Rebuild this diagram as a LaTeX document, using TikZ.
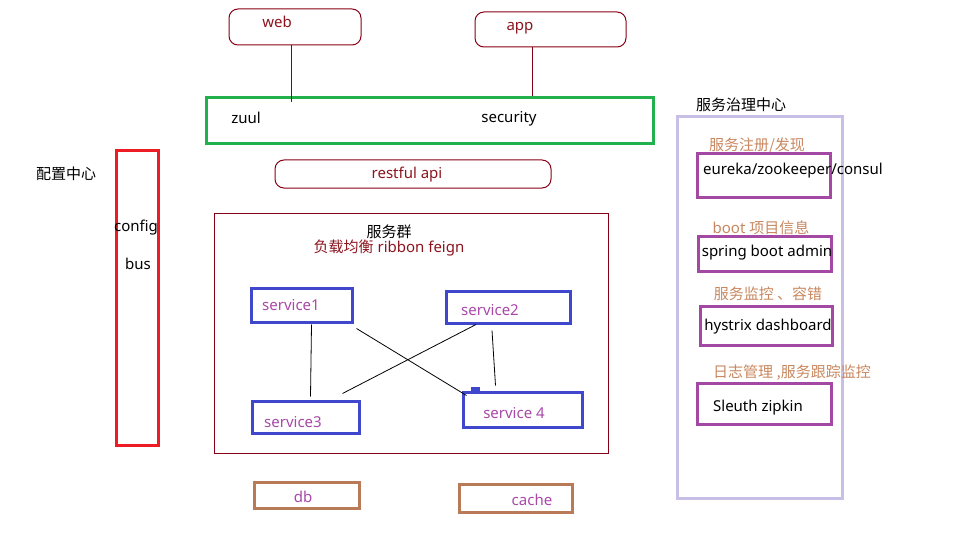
\documentclass[tikz,border=0pt]{standalone}
\usepackage{fontspec}
\setmainfont{Noto Sans}
\newfontfamily\cjk{Noto Sans CJK SC}
\definecolor{dred}{RGB}{136,0,21}
\definecolor{tred}{RGB}{140,20,30}
\definecolor{gbox}{RGB}{34,177,76}
\definecolor{rbox}{RGB}{237,28,36}
\definecolor{bbox}{RGB}{63,72,204}
\definecolor{ptext}{RGB}{168,72,168}
\definecolor{lav}{RGB}{200,191,231}
\definecolor{pbox}{RGB}{163,73,164}
\definecolor{tan}{RGB}{200,135,95}
\definecolor{brbox}{RGB}{185,122,87}
\begin{document}
\begin{tikzpicture}[x=1pt,y=-1pt,
  every node/.style={inner sep=0pt,font=\fontsize{15}{17}\selectfont},
  roundbox/.style={draw=dred,line width=1pt,rounded corners=9pt},
  thickbox/.style={line width=3pt},
  svc/.style={draw=bbox,line width=3pt},
  gov/.style={draw=pbox,line width=3pt},
  store/.style={draw=brbox,line width=3pt},
  link/.style={draw=black,line width=0.8pt},
  lbl/.style={text=black},
]
\useasboundingbox (0,0) rectangle (960,540);
% clients
\node[roundbox,minimum width=132,minimum height=36] (web) at (295,27) {};
\node[text=tred] (webt) at (277,22) {web};
\node[roundbox,minimum width=151,minimum height=35] (app) at (550.5,29.5) {};
\node[text=tred] (appt) at (520,28) {app};
% gateway
\node[draw=gbox,thickbox,minimum width=447,minimum height=46] (gw) at (429.5,121) {};
\node[lbl] (zuul) at (246,118) {zuul};
\node[lbl] (sec) at (509,119) {security};
\draw[draw=dred,line width=1pt] ([xshift=-4]web.south) -- ([xshift=-4,yshift=-6]web.south |- gw.north);
\draw[draw=dred,line width=1pt] ([xshift=-18]app.south) -- ([xshift=-18]app.south |- gw.north);
% restful
\node[roundbox,minimum width=276,minimum height=28] (rest) at (413,174) {};
\node[text=tred] (restt) at (407,175) {restful api};
% config
\node[lbl] (cfgc) at (66,174) {\cjk 配置中心};
\node[draw=rbox,thickbox,minimum width=42,minimum height=294] (cfg) at (137,298) {};
\node[lbl] (cfgt) at (136,228) {config};
\node[lbl] (bus) at (138,264) {bus};
% service group
\node[draw=dred,line width=1pt,minimum width=394,minimum height=240] (grp) at (411,333) {};
\node[lbl] (grpt) at (389,232) {\cjk 服务群};
\node[text=tred] (lb) at (389,248) {{\cjk 负载均衡} ribbon feign};
\node[svc,minimum width=101,minimum height=34] (s1) at (301.5,305) {};
\node[text=ptext] (s1t) at (291,305) {service1};
\node[svc,minimum width=124,minimum height=32] (s2) at (508,307) {};
\node[text=ptext] (s2t) at (490,310) {service2};
\node[svc,minimum width=107,minimum height=32] (s3) at (305.5,417) {};
\node[text=ptext] (s3t) at (293,422) {service3};
\node[svc,minimum width=119,minimum height=35] (s4) at (522.5,409.5) {};
\node[text=ptext] (s4t) at (514,413) {service 4};
\fill[bbox] ([xshift=9]s4.north west) rectangle ([xshift=18,yshift=4]s4.north west);
\draw[link] ([xshift=10,yshift=-1]s1.south) -- ([xshift=5,yshift=3]s3.north);
\draw[link] ([shift={(3,5)}]s1.south east) -- ([shift={(5,5)}]s4.north west);
\draw[link] ([xshift=-32]s2.south) -- ([shift={(-18,-6)}]s3.north east);
\draw[link] ([xshift=-16,yshift=-6]s2.south) -- ([xshift=-27,yshift=5]s4.north);
% governance
\node[lbl] (govt) at (741,105) {\cjk 服务治理中心};
\node[draw=lav,thickbox,minimum width=165,minimum height=381] (gov) at (759.5,307.5) {};
\node[text=tan] (g1l) at (757,146) {\cjk 服务注册/发现};
\node[gov,minimum width=133,minimum height=43] (g1) at (763.5,175.5) {};
\node[lbl] (g1t) at (793,171) {eureka/zookeeper/consul};
\node[text=tan] (g2l) at (761,228) {boot {\cjk 项目信息}};
\node[gov,minimum width=133,minimum height=35] (g2) at (764.5,253.5) {};
\node[lbl] (g2t) at (767,253) {spring boot admin};
\node[text=tan] (g3l) at (768,294) {\cjk 服务监控 、容错};
\node[gov,minimum width=132,minimum height=39] (g3) at (766,325.5) {};
\node[lbl] (g3t) at (768,327) {hystrix dashboard};
\node[text=tan] (g4l) at (792,373) {\cjk 日志管理 ,服务跟踪监控};
\node[gov,minimum width=134,minimum height=41] (g4) at (764,403.5) {};
\node[lbl] (g4t) at (758,408) {Sleuth zipkin};
% storage
\node[store,minimum width=105,minimum height=26] (db) at (306.5,495) {};
\node[text=ptext] (dbt) at (303,497) {db};
\node[store,minimum width=113,minimum height=28] (cache) at (515.5,498) {};
\node[text=ptext] (cachet) at (532,500) {cache};
\end{tikzpicture}
\end{document}
